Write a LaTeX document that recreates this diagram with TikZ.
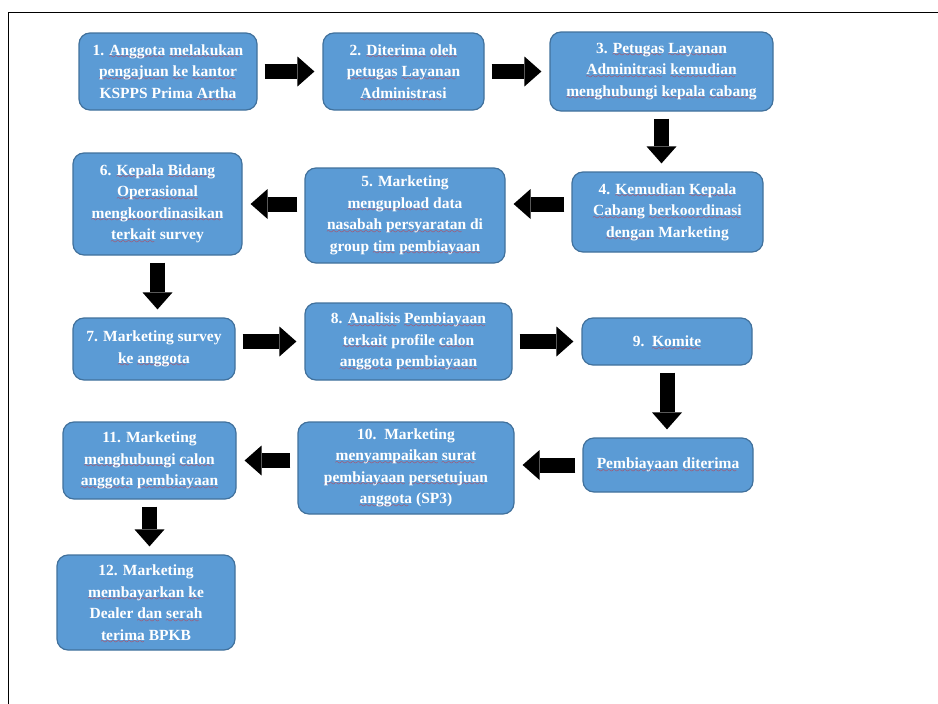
\documentclass[tikz,border=0pt]{standalone}
\usepackage{fontspec}
\setmainfont{Liberation Serif}
\usetikzlibrary{arrows.meta}
\definecolor{kpfill}{RGB}{91,155,213}
\definecolor{kpline}{RGB}{65,113,156}
\definecolor{kpred}{RGB}{230,30,30}
\font\kpWave=lasy7
\def\kpSq#1{\setbox0\hbox{#1}%
  \rlap{\color{kpred}\smash{\lower3.5pt\hbox to\wd0{\leaders\hbox{\kpWave\char58}\hfill}}}\box0\relax}
\def\kpBox#1#2#3#4#5#6{%
  \node[kpbox, minimum width=#4pt, minimum height=#5pt] (#1) at (#2,#3) {#6};}

\begin{document}
\begin{tikzpicture}[
    x=1pt, y=-1pt,
    kpbox/.style   = {draw=kpline, fill=kpfill, line width=1.2pt, rounded corners=11pt,
                      align=center, text=white, inner sep=2pt,
                      font=\fontsize{15.5}{21.5}\selectfont\bfseries},
    kparr/.style   = {-{Triangle[length=17pt,width=30pt,line width=0pt]}, line width=15pt,
                      shorten <=7pt, shorten >=8pt},
    kpframe/.style = {line width=1.5pt}]

  \useasboundingbox (0,0) rectangle (938,704);
  \draw[kpframe] (938,12.5) -- (8.5,12.5) -- (8.5,704);

  %% ---- row 1 -------------------------------------------------------
  \kpBox{n1}{168}{71.5}{178}{77}{1. \kpSq{Anggota} \kpSq{melakukan}\\
    \kpSq{pengajuan} \kpSq{ke} \kpSq{kantor}\\ KSPPS Prima \kpSq{Artha}}
  \kpBox{n2}{403.5}{71.5}{161}{77}{2. \kpSq{Diterima} \kpSq{oleh}\\
    \kpSq{petugas} \kpSq{Layanan}\\ \kpSq{Administrasi}}
  \kpBox{n3}{661.5}{71.5}{223}{79}{3. \kpSq{Petugas} \kpSq{Layanan}\\
    \kpSq{Adminitrasi} \kpSq{kemudian}\\ \kpSq{menghubungi} \kpSq{kepala} \kpSq{cabang}}

  %% ---- row 2 -------------------------------------------------------
  \kpBox{n4}{667.5}{212}{191}{80}{4. \kpSq{Kemudian} \kpSq{Kepala}\\
    \kpSq{Cabang} \kpSq{berkoordinasi}\\ \kpSq{dengan} Marketing}
  \kpBox{n5}{405}{215.5}{200}{95}{5. Marketing\\ \kpSq{mengupload} data\\
    \kpSq{nasabah} \kpSq{persyaratan} di\\ group \kpSq{tim} \kpSq{pembiayaan}}
  \kpBox{n6}{157.5}{204}{169}{102}{6. \kpSq{Kepala} \kpSq{Bidang}\\
    \kpSq{Operasional}\\ \kpSq{mengkoordinasikan}\\ \kpSq{terkait} survey}

  %% ---- row 3 -------------------------------------------------------
  \kpBox{n7}{154}{349}{162}{62}{7. Marketing survey\\ \kpSq{ke} \kpSq{anggota}}
  \kpBox{n8}{408.5}{341.5}{207}{77}{8. \kpSq{Analisis} \kpSq{Pembiayaan}\\
    \kpSq{terkait} profile \kpSq{calon}\\ \kpSq{anggota} \kpSq{pembiayaan}}
  \kpBox{n9}{667}{341.5}{170}{47}{9.\ \ \kpSq{Komite}}

  %% ---- row 4 -------------------------------------------------------
  \kpBox{nP}{668}{465}{170}{54}{\kpSq{Pembiayaan} \kpSq{diterima}}
  \kpBox{n10}{406}{468}{216}{92}{10.\ \ Marketing\\ \kpSq{menyampaikan} \kpSq{surat}\\
    \kpSq{pembiayaan} \kpSq{persetujuan}\\ \kpSq{anggota} (SP3)}
  \kpBox{n11}{149.5}{460.5}{173}{77}{11. Marketing\\ \kpSq{menghubungi} \kpSq{calon}\\
    \kpSq{anggota} \kpSq{pembiayaan}}

  %% ---- row 5 -------------------------------------------------------
  \kpBox{n12}{146}{602.5}{178}{95}{12. Marketing\\ \kpSq{membayarkan} \kpSq{ke}\\
    Dealer \kpSq{dan} \kpSq{serah}\\ \kpSq{terima} BPKB}

  %% ---- arrows ------------------------------------------------------
  \draw[kparr] (n1) -- (n2);
  \draw[kparr] (n2) -- (n3);
  \draw[kparr] (n3.south) -- (n3.south |- n4.north);
  \draw[kparr] (n4.west |- n6) -- (n5.east |- n6);
  \draw[kparr] (n5.west |- n6) -- (n6.east);
  \draw[kparr] (n6.south) -- (n6.south |- n7.north);
  \draw[kparr] (n7.east |- n8) -- (n8.west);
  \draw[kparr] (n8) -- (n9);
  \draw[kparr] (n9.south) -- (n9.south |- nP.north);
  \draw[kparr] (nP.west) -- (nP.west -| n10.east);
  \draw[kparr] (n10.west |- n11) -- (n11.east);
  \draw[kparr] (n11.south) -- (n11.south |- n12.north);
\end{tikzpicture}
\end{document}
